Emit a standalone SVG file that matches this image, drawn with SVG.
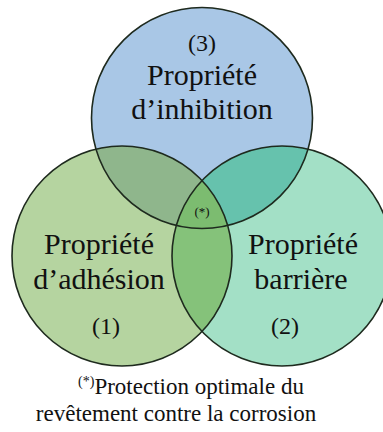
<svg xmlns="http://www.w3.org/2000/svg" width="383" height="432" viewBox="0 0 383 432">
<style>
.ring{fill:none;stroke:#1e2a1e;stroke-width:1.6}
.t{font-family:"Liberation Serif","Times New Roman",serif;fill:#111;text-anchor:middle}
.big{font-size:30px}
.num{font-size:24px}
.cap{font-size:23px}
</style>
<defs>
<clipPath id="clipA"><circle cx="122" cy="256" r="110"/></clipPath>
<clipPath id="clipB"><circle cx="282" cy="256" r="110"/></clipPath>
<clipPath id="clipC"><circle cx="202" cy="118" r="110.5"/></clipPath>
</defs>
<rect width="383" height="432" fill="#ffffff"/>
<g id="fills">
<circle cx="202" cy="118" r="110.5" fill="#a9c7e6"/>
<circle cx="122" cy="256" r="110" fill="#b5d4a0"/>
<circle cx="282" cy="256" r="110" fill="#a3e0c6"/>
<circle cx="122" cy="256" r="110" fill="#8fb68c" clip-path="url(#clipC)"/>
<circle cx="282" cy="256" r="110" fill="#66c2ad" clip-path="url(#clipC)"/>
<circle cx="122" cy="256" r="110" fill="#85c27a" clip-path="url(#clipB)"/>
<g clip-path="url(#clipC)"><circle cx="122" cy="256" r="110" fill="#7cbc70" clip-path="url(#clipB)"/></g>
</g>
<g id="connectors"></g>
<g id="node-inhibition">
<circle class="ring" cx="202" cy="118" r="110.5"/>
<text class="t num" x="202" y="51">(3)</text>
<text class="t big" x="202" y="85">Propriété</text>
<text class="t big" x="202" y="119">d’inhibition</text>
</g>
<g id="node-adhesion">
<circle class="ring" cx="122" cy="256" r="110"/>
<text class="t big" x="99" y="254">Propriété</text>
<text class="t big" x="99" y="289">d’adhésion</text>
<text class="t num" x="106" y="334">(1)</text>
</g>
<g id="node-barriere">
<circle class="ring" cx="282" cy="256" r="110"/>
<text class="t big" x="303" y="254">Propriété</text>
<text class="t big" x="301" y="289">barrière</text>
<text class="t num" x="285" y="334">(2)</text>
</g>
<g id="node-center">
<text class="t" style="font-size:13px" x="202" y="216">(*)</text>
</g>
<g id="caption">
<text class="t cap" x="191" y="394"><tspan style="font-size:14px" dy="-8">(*)</tspan><tspan dy="8">Protection optimale du</tspan></text>
<text class="t cap" x="176" y="421">revêtement contre la corrosion</text>
</g>
</svg>
